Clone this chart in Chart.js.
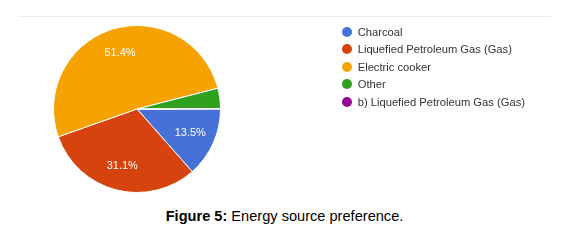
<!DOCTYPE html>
<html>
<head>
<meta charset="utf-8">
<script src="https://cdn.jsdelivr.net/npm/chart.js@4/dist/chart.umd.min.js"></script>
<style>
  html, body { margin: 0; padding: 0; background: #fff; }
  #wrap { position: relative; width: 569px; height: 240px; overflow: hidden; background: #fff; }
  #topline { position: absolute; left: 18px; top: 16px; width: 533px; height: 1px; background: #e4eeee; }
  #c { position: absolute; left: 0; top: 0; }
  #legend { position: absolute; left: 341.7px; top: 22.9px; font-family: "Liberation Sans", Arial, sans-serif; font-size: 11.2px; color: #333; }
  .row { height: 17.6px; display: flex; align-items: center; white-space: nowrap; }
  .dot { width: 10px; height: 10px; border-radius: 50%; margin-right: 6px; flex: none; }
  #caption { position: absolute; left: 0; width: 569px; top: 207px; text-align: center; font-family: "Liberation Sans", Arial, sans-serif; font-size: 14.6px; color: #000; line-height: 18px; }
</style>
</head>
<body>
<div id="wrap">
  <div id="topline"></div>
  <canvas id="c" width="569" height="200"></canvas>
  <div id="legend"></div>
  <div id="caption"><b>Figure 5:</b> Energy source preference.</div>
</div>
<script>
const categories = ["Charcoal", "Liquefied Petroleum Gas (Gas)", "Electric cooker", "Other", "b) Liquefied Petroleum Gas (Gas)"];
const percentValues = [13.5, 31.1, 51.4, 3.9, 0.1];
const sliceColors = ["#4671d6", "#d6430e", "#f6a200", "#2fa11f", "#930896"];

const legendEl = document.getElementById('legend');
categories.forEach((name, i) => {
  const row = document.createElement('div');
  row.className = 'row';
  const dot = document.createElement('span');
  dot.className = 'dot';
  dot.style.background = sliceColors[i];
  const txt = document.createElement('span');
  txt.textContent = name;
  row.appendChild(dot);
  row.appendChild(txt);
  legendEl.appendChild(row);
});

const pctLabels = {
  id: 'pctLabels',
  afterDatasetsDraw(chart) {
    const ctx = chart.ctx;
    const meta = chart.getDatasetMeta(0);
    ctx.save();
    ctx.fillStyle = '#ffffff';
    ctx.font = '11px "Liberation Sans", Arial, sans-serif';
    ctx.textAlign = 'center';
    ctx.textBaseline = 'middle';
    meta.data.forEach((arc, i) => {
      const v = percentValues[i];
      if (v < 5) return;
      const p = arc.getProps(['x', 'y', 'startAngle', 'endAngle', 'outerRadius'], true);
      const mid = (p.startAngle + p.endAngle) / 2;
      const r = p.outerRadius * 0.7;
      ctx.fillText(v.toFixed(1) + '%', p.x + Math.cos(mid) * r, p.y + Math.sin(mid) * r);
    });
    ctx.restore();
  }
};

new Chart(document.getElementById('c'), {
  type: 'pie',
  data: {
    labels: categories,
    datasets: [{
      data: percentValues,
      backgroundColor: sliceColors,
      borderColor: '#ffffff',
      borderWidth: 1
    }]
  },
  options: {
    responsive: false,
    animation: false,
    rotation: 90,
    layout: { padding: { left: 53, right: 348, top: 25, bottom: 7 } },
    plugins: {
      legend: { display: false },
      tooltip: { enabled: false }
    }
  },
  plugins: [pctLabels]
});
</script>
</body>
</html>
